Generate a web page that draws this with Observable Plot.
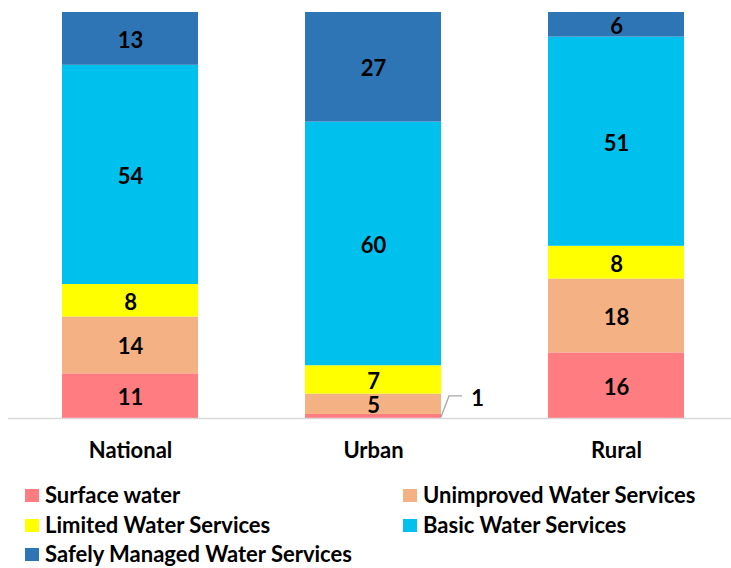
<!DOCTYPE html>
<html>
<head>
<meta charset="utf-8">
<script src="https://cdn.jsdelivr.net/npm/d3@7"></script>
<script src="https://cdn.jsdelivr.net/npm/@observablehq/plot@0.6"></script>
<style>
  html, body { margin: 0; padding: 0; background: #fff; }
  #wrap { width: 731px; height: 568px; position: relative; font-family: Lato, "Open Sans", sans-serif; overflow: hidden; }
  #legend { position: relative; width: 731px; height: 98px; }
  .item { position: absolute; display: flex; align-items: center; font-weight: bold; font-size: 22px; line-height: 22px; color: #000; white-space: nowrap; }
  .sw { width: 14px; height: 13px; margin-right: 6px; flex: none; }
</style>
</head>
<body>
<div id="wrap">
  <div id="chart"></div>
  <div id="legend"></div>
</div>
<script>
const categories = ["National", "Urban", "Rural"];
const series = ["Surface water", "Unimproved Water Services", "Limited Water Services", "Basic Water Services", "Safely Managed Water Services"];
const colors = ["#FF7C80", "#F4B183", "#FFFF00", "#00C0EE", "#2E75B6"];
const surfaceWater = [11, 1, 16];
const unimproved = [14, 5, 18];
const limited = [8, 7, 8];
const basic = [54, 60, 51];
const safelyManaged = [13, 27, 6];

const seriesValues = [surfaceWater, unimproved, limited, basic, safelyManaged];
const data = [];
series.forEach((s, si) => {
  categories.forEach((c, ci) => {
    data.push({category: c, series: s, value: seriesValues[si][ci]});
  });
});

const stackOpts = {offset: "normalize", x: "category", y: "value", z: "series"};

function leader(index, scales) {
  const small = data.filter(d => d.value < 3);
  const g = d3.create("svg:g");
  for (const d of small) {
    const ci = categories.indexOf(d.category);
    const total = seriesValues.reduce((a, arr) => a + arr[ci], 0);
    const si = series.indexOf(d.series);
    let below = 0;
    for (let k = 0; k < si; k++) below += seriesValues[k][ci];
    const mid = (below + d.value / 2) / total;
    const x0 = scales.x(d.category) + scales.x.bandwidth();
    const y0 = scales.y(mid);
    g.append("path")
      .attr("d", `M${x0},${y0 + 1}L${x0 + 8},${y0 - 20}L${x0 + 21},${y0 - 20}`)
      .attr("fill", "none")
      .attr("stroke", "#a6a6a6")
      .attr("stroke-width", 1.3);
  }
  return g.node();
}

const chart = Plot.plot({
  width: 731,
  height: 470,
  marginTop: 12,
  marginBottom: 52,
  marginLeft: 8,
  marginRight: 0,
  style: {fontFamily: "Lato, 'Open Sans', sans-serif", background: "#fff"},
  x: {domain: categories, range: [8, 738], paddingInner: 0.44, paddingOuter: 0.222},
  y: {domain: [0, 1], axis: null},
  color: {domain: series, range: colors},
  marks: [
    Plot.barY(data, Plot.stackY({...stackOpts, fill: "series"})),
    Plot.ruleY([0], {stroke: "#d9d9d9", strokeWidth: 1.6}),
    Plot.text(data, Plot.stackY({...stackOpts, text: d => d.value >= 3 ? String(d.value) : "", fontSize: 22, fontWeight: "bold", fill: "#000", dy: 2})),
    Plot.text(data, Plot.stackY({...stackOpts, text: d => d.value < 3 ? String(d.value) : "", fontSize: 22, fontWeight: "bold", fill: "#000", dx: 104, dy: -18})),
    leader,
    Plot.axisX({tickSize: 0, tickPadding: 24, fontSize: 22, fontWeight: "bold", fill: "#000", label: null})
  ]
});
document.getElementById("chart").appendChild(chart);

const legend = document.getElementById("legend");
const pos = [[25, 25], [403, 25], [25, 55], [403, 55], [25, 84]];
series.forEach((s, i) => {
  const it = document.createElement("div");
  it.className = "item";
  it.style.left = pos[i][0] + "px";
  it.style.top = (pos[i][1] - 11) + "px";
  it.style.height = "22px";
  const sw = document.createElement("span");
  sw.className = "sw";
  sw.style.background = colors[i];
  const tx = document.createElement("span");
  tx.textContent = s;
  it.appendChild(sw);
  it.appendChild(tx);
  legend.appendChild(it);
});
</script>
</body>
</html>
